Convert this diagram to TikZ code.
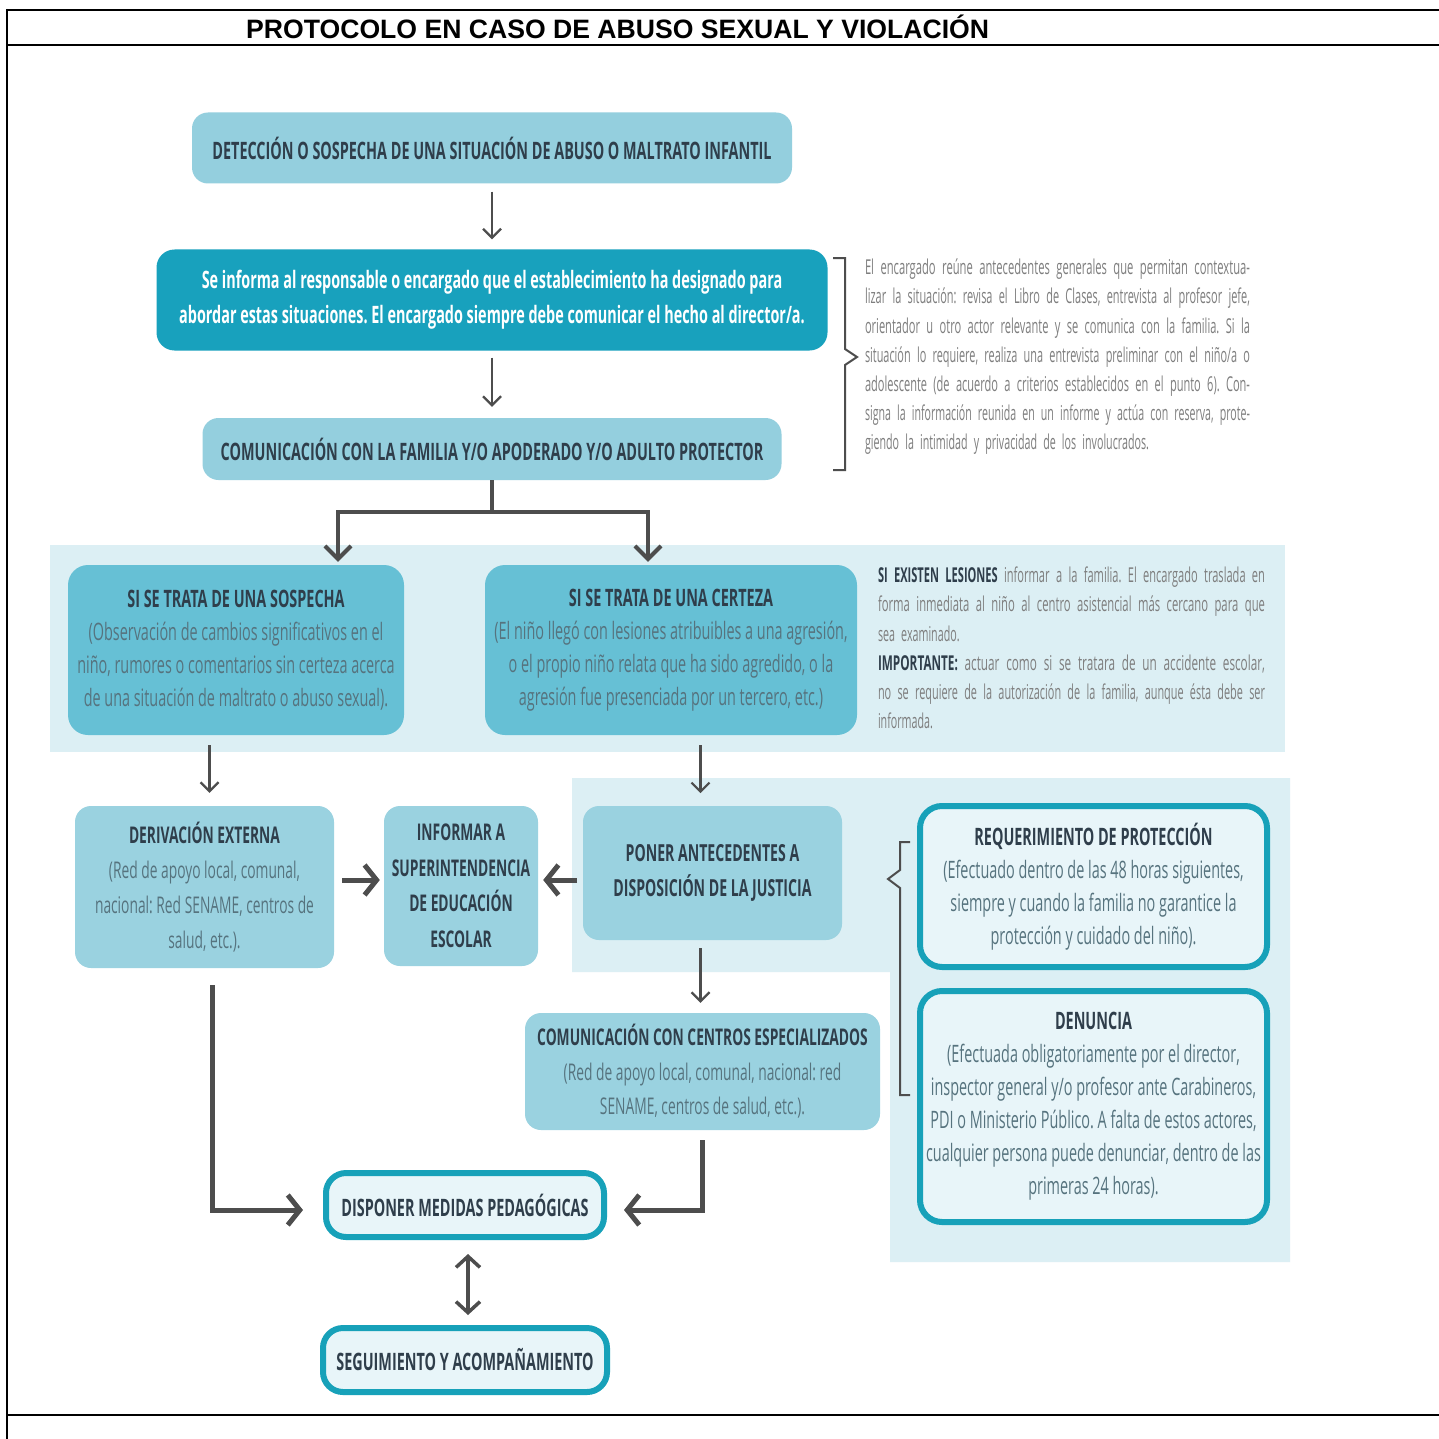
\documentclass[tikz,border=0pt]{standalone}
\usepackage{fontspec}
\usepackage{graphicx}
\usetikzlibrary{arrows.meta,calc}
\newfontfamily\cf[FakeStretch=0.6]{Open Sans}
\newfontfamily\sidefont[FakeStretch=0.58,WordSpace=0.6]{Open Sans}
\newfontfamily\tf{Liberation Sans}
\definecolor{lb}{HTML}{94CFDE}
\definecolor{lb2}{HTML}{9AD2E0}
\definecolor{mb}{HTML}{66C0D5}
\definecolor{db}{HTML}{18A1BD}
\definecolor{pan}{HTML}{DCEFF4}
\definecolor{tl}{HTML}{17A1B9}
\definecolor{inn}{HTML}{E8F5F9}
\definecolor{hd}{HTML}{2F3E4B}
\definecolor{bd}{HTML}{56737E}
\definecolor{sg}{HTML}{7E7E7E}
\definecolor{ar}{HTML}{4D4D4D}
\newcommand{\jl}[1]{\resizebox{\hsize}{\height}{#1}}
\newcommand{\sbf}[1]{{\bfseries\color{hd}#1}}
\frenchspacing
\begin{document}
\begin{tikzpicture}[x=1pt,y=-1pt,
  box/.style={inner sep=0pt, align=center, text=bd,
    font=\cf\fontsize{24}{33}\selectfont},
  lbox/.style={box, fill=lb, rounded corners=16pt},
  mbox/.style={box, fill=mb, rounded corners=20pt},
  obox/.style={box, draw=tl, line width=6pt, fill=inn, rounded corners=22pt},
  hdt/.style={text=hd},
  side/.style={inner sep=0pt, align=left, text=sg,
    font=\sidefont\frenchspacing\fontsize{20.5}{29.2}\selectfont},
  tarr/.style={draw=ar, line width=2.2pt, -{Straight Barb[length=9pt,width=18pt]}},
  fork/.style={draw=ar, line width=4pt, -{Straight Barb[length=13pt,width=26pt]}},
  Tarr/.style={draw=ar, line width=5pt, -{Straight Barb[length=12pt,width=30pt]}},
  brk/.style={draw=ar, line width=2pt}
]
\useasboundingbox (0,0) rectangle (1439,1439);
\fill[white] (0,0) rectangle (1439,1439);
% frame
\draw[line width=2.4pt] (7,10) -- (1439,10);
\draw[line width=2.4pt] (7,45) -- (1439,45);
\draw[line width=2.4pt] (7,1415) -- (1439,1415);
\draw[line width=1.5pt] (7,9) -- (7,1439);
\node[anchor=west, inner sep=0pt, font=\tf\bfseries\fontsize{26.6}{30}\selectfont] (title) at (246,27) {PROTOCOLO EN CASO DE ABUSO SEXUAL Y VIOLACIÓN};

% panels
\fill[pan] (50,545) rectangle (1285,752);
\fill[pan] (572,778) -- (1290,778) -- (1290,1262) -- (890,1262) -- (890,972) -- (572,972) -- cycle;

% top chain
\node[lbox, hdt, font=\cf\bfseries\fontsize{24}{30}\selectfont, minimum width=600pt, minimum height=71pt] (det) at (492,148)
  {DETECCIÓN O SOSPECHA DE UNA SITUACIÓN DE ABUSO O MALTRATO INFANTIL};
\node[box, fill=db, rounded corners=18pt, text=white, font=\cf\bfseries\fontsize{24}{35}\selectfont, minimum width=671pt, minimum height=101pt] (sei) at (492,300)
  {Se informa al responsable o encargado que el establecimiento ha designado para\\abordar estas situaciones. El encargado siempre debe comunicar el hecho al director/a.};
\node[lbox, hdt, font=\cf\bfseries\fontsize{24}{30}\selectfont, minimum width=579pt, minimum height=62pt] (com) at (492,449)
  {COMUNICACIÓN CON LA FAMILIA Y/O APODERADO Y/O ADULTO PROTECTOR};

\draw[tarr] ($(det.south)+(0,8)$) -- ($(sei.north)+(0,-10)$);
\draw[tarr] ($(sei.south)+(0,7)$) -- ($(com.north)+(0,-11)$);

% bracket 1 and side text
\draw[brk] (833,258) -- (845,258) -- (845,349) -- (857,357) -- (845,365) -- (845,470) -- (833,470);
\node[side, text width=385pt] (enc) at (1057.5,357)
  {\jl{El encargado reúne antecedentes generales que permitan contextua-}\\
   \jl{lizar la situación: revisa el Libro de Clases, entrevista al profesor jefe,}\\
   \jl{orientador u otro actor relevante y se comunica con la familia. Si la}\\
   \jl{situación lo requiere, realiza una entrevista preliminar con el niño/a o}\\
   \jl{adolescente (de acuerdo a criterios establecidos en el punto 6). Con-}\\
   \jl{signa la información reunida en un informe y actúa con reserva, prote-}\\
   \scalebox{0.9}[1]{giendo la intimidad y privacidad de los involucrados.}};

% second level
\node[mbox, minimum width=336pt, minimum height=170pt] (sos) at (236,650)
  {{\bfseries\color{hd}SI SE TRATA DE UNA SOSPECHA}\\(Observación de cambios significativos en el\\niño, rumores o comentarios sin certeza acerca\\de una situación de maltrato o abuso sexual).};
\node[mbox, minimum width=372pt, minimum height=170pt] (cer) at (671,650)
  {{\bfseries\color{hd}SI SE TRATA DE UNA CERTEZA}\\(El niño llegó con lesiones atribuibles a una agresión,\\o el propio niño relata que ha sido agredido, o la\\agresión fue presenciada por un tercero, etc.)};

\coordinate (fL) at (338,512);
\coordinate (fR) at (648,512);
\draw[fork] (com.south) |- (fL) -- ($(fL |- sos.north)+(0,-3)$);
\draw[fork] (com.south) |- (fR) -- ($(fR |- cer.north)+(0,-3)$);

\node[side, text width=387pt] (les) at (1071.5,648)
  {\jl{\sbf{SI EXISTEN LESIONES} informar a la familia. El encargado traslada en}\\
   \jl{forma inmediata al niño al centro asistencial más cercano para que}\\
   \scalebox{0.9}[1]{sea examinado.}\\
   \jl{\sbf{IMPORTANTE:} actuar como si se tratara de un accidente escolar,}\\
   \jl{no se requiere de la autorización de la familia, aunque ésta debe ser}\\
   \scalebox{0.9}[1]{informada.}};

% third level
\node[box, fill=lb2, rounded corners=16pt, font=\cf\fontsize{23}{35}\selectfont, minimum width=259pt, minimum height=162pt] (der) at (204.5,887)
  {{\bfseries\color{hd}DERIVACIÓN EXTERNA}\\(Red de apoyo local, comunal,\\nacional: Red SENAME, centros de\\salud, etc.).};
\node[box, fill=lb2, rounded corners=16pt, hdt, font=\cf\bfseries\fontsize{23}{35.5}\selectfont, minimum width=154pt, minimum height=160pt] (sup) at (461,886)
  {INFORMAR A\\SUPERINTENDENCIA\\DE EDUCACIÓN\\ESCOLAR};
\node[box, fill=lb2, rounded corners=16pt, hdt, font=\cf\bfseries\fontsize{23.5}{35}\selectfont, minimum width=259pt, minimum height=134pt] (pon) at (712.5,873)
  {PONER ANTECEDENTES A\\DISPOSICIÓN DE LA JUSTICIA};
\node[box, fill=lb2, rounded corners=16pt, font=\cf\fontsize{23}{34.5}\selectfont, minimum width=355pt, minimum height=117pt] (cen) at (702.5,1071.5)
  {{\bfseries\color{hd}COMUNICACIÓN CON CENTROS ESPECIALIZADOS}\\(Red de apoyo local, comunal, nacional: red\\SENAME, centros de salud, etc.).};

\draw[tarr] ($(sos.south -| der.north)+(5,10)$) -- ($(der.north)+(5,-13)$);
\draw[tarr] ($(cer.south -| cen.north)+(-2,10)$) -- ($(cer.south -| cen.north)+(-2,58)$);
\draw[Tarr] ($(der.east)+(8,-7)$) -- ($(sup.west)+(-4,-6)$);
\draw[Tarr] ($(pon.east |- sup.west)+(-265,-6)$) -- ($(sup.east)+(5,-6)$);
\draw[tarr] ($(pon.south -| cen.north)+(-2,8)$) -- ($(cen.north)+(-2,-10)$);

% right bracket + outlined boxes
\draw[brk] (910,842) -- (900,842) -- (900,870) -- (888,879) -- (900,888) -- (900,1095) -- (910,1095);
\node[obox, minimum width=347pt, minimum height=161pt] (req) at (1093.5,886.5)
  {{\bfseries\color{hd}REQUERIMIENTO DE PROTECCIÓN}\\(Efectuado dentro de las 48 horas siguientes,\\siempre y cuando la familia no garantice la\\protección y cuidado del niño).};
\node[obox, minimum width=347pt, minimum height=231pt] (den) at (1093.5,1106.5)
  {{\bfseries\color{hd}DENUNCIA}\\(Efectuada obligatoriamente por el director,\\inspector general y/o profesor ante Carabineros,\\PDI o Ministerio Público. A falta de estos actores,\\cualquier persona puede denunciar, dentro de las\\primeras 24 horas).};

% bottom
\node[obox, hdt, font=\cf\bfseries\fontsize{24}{30}\selectfont, rounded corners=20pt, minimum width=278pt, minimum height=64pt] (dis) at (465,1205)
  {DISPONER MEDIDAS PEDAGÓGICAS};
\node[obox, hdt, font=\cf\bfseries\fontsize{24}{30}\selectfont, rounded corners=20pt, minimum width=284pt, minimum height=64pt] (seg) at (465,1360)
  {SEGUIMIENTO Y ACOMPAÑAMIENTO};

\draw[Tarr] ($(der.south)+(8,17)$) |- ($(dis.west)+(-20,5)$);
\draw[Tarr] ($(cen.south)+(0,10)$) |- ($(dis.east)+(17,5)$);
\draw[draw=ar, line width=3.5pt, {Straight Barb[length=11pt,width=24pt]}-{Straight Barb[length=11pt,width=24pt]}]
  ($(dis.south)+(3,14)$) -- ($(seg.north)+(3,-10)$);
\end{tikzpicture}
\end{document}
